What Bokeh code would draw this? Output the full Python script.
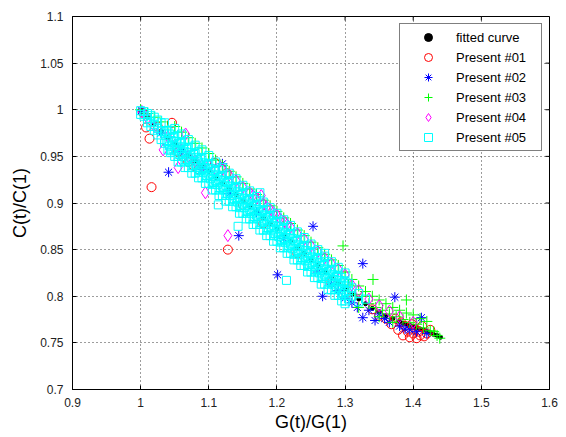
from bokeh.plotting import figure
from bokeh.models import Range1d, FixedTicker, Legend, LegendItem
from bokeh.embed import file_html
from bokeh.resources import INLINE

# Axis ticks and their printed labels
x_ticks = [0.9, 1.0, 1.1, 1.2, 1.3, 1.4, 1.5, 1.6]
x_tick_labels = ["0.9", "1", "1.1", "1.2", "1.3", "1.4", "1.5", "1.6"]
y_ticks = [0.7, 0.75, 0.8, 0.85, 0.9, 0.95, 1.0, 1.05, 1.1]
y_tick_labels = ["0.7", "0.75", "0.8", "0.85", "0.9", "0.95", "1", "1.05", "1.1"]

# Fitted curve C(t)/C(1) against G(t)/G(1)
fit_g = [1.00, 1.01, 1.02, 1.03, 1.04, 1.05, 1.06, 1.07, 1.08, 1.09,
         1.10, 1.11, 1.12, 1.13, 1.14, 1.15, 1.16, 1.17, 1.18, 1.19,
         1.20, 1.21, 1.22, 1.23, 1.24, 1.25, 1.26, 1.27, 1.28, 1.29,
         1.30, 1.31, 1.32, 1.33, 1.34, 1.35, 1.36, 1.37, 1.38, 1.385,
         1.39, 1.395, 1.40, 1.405, 1.41, 1.415, 1.42, 1.425, 1.43, 1.435,
         1.44]
fit_c = [1.000, 0.992, 0.985, 0.977, 0.970, 0.963, 0.957, 0.951, 0.945, 0.940,
         0.934, 0.927, 0.921, 0.915, 0.909, 0.902, 0.896, 0.890, 0.884, 0.878,
         0.872, 0.865, 0.859, 0.852, 0.846, 0.839, 0.833, 0.826, 0.820, 0.814,
         0.808, 0.802, 0.797, 0.792, 0.787, 0.783, 0.779, 0.776, 0.773, 0.771,
         0.770, 0.769, 0.768, 0.766, 0.765, 0.764, 0.762, 0.761, 0.759, 0.758,
         0.756]

# Present #01
p01_g = [1.003, 1.008, 1.013, 1.016, 1.025, 1.046, 1.055, 1.062, 1.070, 1.078,
         1.085, 1.109, 1.126, 1.128, 1.150, 1.180, 1.230, 1.280, 1.310, 1.340,
         1.350, 1.360, 1.368, 1.374, 1.378, 1.382, 1.385, 1.388, 1.392, 1.395,
         1.398, 1.400, 1.403, 1.405, 1.408, 1.410, 1.413, 1.416, 1.420, 1.425]
p01_c = [0.997, 0.981, 0.969, 0.917, 0.982, 0.986, 0.955, 0.950, 0.944, 0.940,
         0.936, 0.943, 0.932, 0.850, 0.898, 0.878, 0.846, 0.815, 0.800, 0.786,
         0.779, 0.776, 0.770, 0.776, 0.764, 0.772, 0.758, 0.768, 0.762, 0.756,
         0.770, 0.760, 0.765, 0.755, 0.762, 0.758, 0.768, 0.757, 0.760, 0.764]

# Present #02
p02_g = [1.001, 1.030, 1.041, 1.060, 1.090, 1.120, 1.130, 1.144, 1.170, 1.201,
         1.210, 1.253, 1.260, 1.267, 1.280, 1.290, 1.300, 1.310, 1.318, 1.326,
         1.326, 1.335, 1.344, 1.350, 1.358, 1.365, 1.373, 1.380, 1.388, 1.395,
         1.405, 1.412, 1.420]
p02_c = [0.999, 0.975, 0.933, 0.955, 0.936, 0.942, 0.910, 0.865, 0.890, 0.823,
         0.862, 0.875, 0.826, 0.800, 0.813, 0.806, 0.798, 0.793, 0.788, 0.835,
         0.777, 0.785, 0.774, 0.781, 0.776, 0.772, 0.799, 0.768, 0.765, 0.764,
         0.762, 0.777, 0.760]

# Present #03
p03_g = [1.000, 1.010, 1.020, 1.030, 1.040, 1.050, 1.060, 1.070, 1.080, 1.090,
         1.100, 1.110, 1.120, 1.130, 1.140, 1.150, 1.160, 1.170, 1.180, 1.190,
         1.200, 1.210, 1.220, 1.230, 1.240, 1.250, 1.260, 1.270, 1.280, 1.290,
         1.297, 1.300, 1.305, 1.310, 1.315, 1.320, 1.320, 1.325, 1.330, 1.335,
         1.340, 1.341, 1.345, 1.350, 1.350, 1.355, 1.360, 1.365, 1.370, 1.370,
         1.375, 1.380, 1.385, 1.390, 1.390, 1.395, 1.400, 1.405, 1.410, 1.415,
         1.420, 1.425, 1.430, 1.435, 1.439]
p03_c = [1.000, 0.996, 0.992, 0.987, 0.982, 0.982, 0.976, 0.970, 0.964, 0.959,
         0.953, 0.946, 0.940, 0.934, 0.928, 0.921, 0.915, 0.909, 0.903, 0.897,
         0.891, 0.884, 0.878, 0.871, 0.865, 0.858, 0.852, 0.845, 0.839, 0.833,
         0.854, 0.826, 0.812, 0.818, 0.802, 0.811, 0.788, 0.800, 0.805, 0.792,
         0.800, 0.818, 0.788, 0.796, 0.778, 0.785, 0.792, 0.781, 0.788, 0.772,
         0.778, 0.785, 0.775, 0.796, 0.782, 0.772, 0.780, 0.770, 0.776, 0.766,
         0.773, 0.763, 0.762, 0.758, 0.755]

# Present #04
p04_g = [1.002, 1.010, 1.020, 1.033, 1.040, 1.050, 1.055, 1.060, 1.066, 1.070,
         1.080, 1.090, 1.095, 1.100, 1.110, 1.120, 1.128, 1.130, 1.140, 1.150,
         1.160, 1.165, 1.170, 1.177, 1.180, 1.185, 1.190, 1.195, 1.200, 1.205,
         1.211, 1.215, 1.220, 1.230, 1.240, 1.250, 1.260, 1.270, 1.280, 1.290,
         1.300, 1.310, 1.320, 1.335, 1.350, 1.365, 1.380, 1.400]
p04_c = [0.998, 0.991, 0.982, 0.957, 0.971, 0.962, 0.938, 0.957, 0.974, 0.950,
         0.945, 0.940, 0.911, 0.940, 0.936, 0.936, 0.865, 0.930, 0.924, 0.917,
         0.911, 0.908, 0.905, 0.908, 0.899, 0.896, 0.893, 0.890, 0.887, 0.883,
         0.880, 0.877, 0.874, 0.867, 0.861, 0.854, 0.848, 0.841, 0.835, 0.829,
         0.823, 0.812, 0.806, 0.797, 0.790, 0.784, 0.778, 0.772]

# Present #05
p05_g = [1.000, 1.000, 1.005, 1.005, 1.010, 1.010, 1.010, 1.015, 1.015, 1.015,
         1.020, 1.020, 1.020, 1.025, 1.025, 1.025, 1.030, 1.030, 1.030, 1.035,
         1.035, 1.035, 1.040, 1.040, 1.040, 1.044, 1.045, 1.045, 1.045, 1.050,
         1.050, 1.050, 1.055, 1.055, 1.055, 1.060, 1.060, 1.060, 1.065, 1.065,
         1.065, 1.070, 1.070, 1.070, 1.075, 1.075, 1.075, 1.080, 1.080, 1.080,
         1.085, 1.085, 1.085, 1.090, 1.090, 1.090, 1.095, 1.095, 1.095, 1.100,
         1.100, 1.100, 1.105, 1.105, 1.105, 1.110, 1.110, 1.110, 1.114, 1.115,
         1.115, 1.115, 1.120, 1.120, 1.120, 1.125, 1.125, 1.125, 1.130, 1.130,
         1.130, 1.135, 1.135, 1.135, 1.140, 1.140, 1.140, 1.143, 1.145, 1.145,
         1.145, 1.150, 1.150, 1.150, 1.155, 1.155, 1.155, 1.160, 1.160, 1.160,
         1.165, 1.165, 1.165, 1.170, 1.170, 1.170, 1.175, 1.175, 1.175, 1.175,
         1.180, 1.180, 1.180, 1.185, 1.185, 1.185, 1.190, 1.190, 1.190, 1.195,
         1.195, 1.195, 1.200, 1.200, 1.200, 1.205, 1.205, 1.205, 1.210, 1.210,
         1.210, 1.214, 1.215, 1.215, 1.215, 1.220, 1.220, 1.220, 1.225, 1.225,
         1.225, 1.230, 1.230, 1.230, 1.235, 1.235, 1.235, 1.240, 1.240, 1.240,
         1.245, 1.245, 1.245, 1.250, 1.250, 1.250, 1.255, 1.255, 1.255, 1.260,
         1.260, 1.260, 1.265, 1.265, 1.265, 1.270, 1.270, 1.270, 1.270, 1.275,
         1.275, 1.275, 1.280, 1.280, 1.280, 1.285, 1.285, 1.285, 1.290, 1.290,
         1.290, 1.295, 1.295, 1.295, 1.300, 1.300, 1.300, 1.300, 1.305, 1.305,
         1.305, 1.310, 1.310, 1.320, 1.320, 1.330,
         1.0375, 1.0375, 1.0425, 1.0425, 1.0475, 1.0475, 1.0525, 1.0525,
         1.0575, 1.0575, 1.0625, 1.0625, 1.0675, 1.0675, 1.0725, 1.0725,
         1.0775, 1.0775, 1.0825, 1.0825, 1.0875, 1.0875, 1.0925, 1.0925,
         1.0975, 1.0975, 1.1025, 1.1025, 1.1075, 1.1075, 1.1125, 1.1125,
         1.1175, 1.1175, 1.1225, 1.1225, 1.1275, 1.1275, 1.1325, 1.1325,
         1.1375, 1.1375, 1.1425, 1.1425, 1.1475, 1.1475, 1.1525, 1.1525,
         1.1575, 1.1575, 1.1625, 1.1625, 1.1675, 1.1675, 1.1725, 1.1725,
         1.1775, 1.1775, 1.1825, 1.1825, 1.1875, 1.1875, 1.1925, 1.1925,
         1.1975, 1.1975, 1.2025, 1.2025, 1.2075, 1.2075, 1.2125, 1.2125,
         1.2175, 1.2175, 1.2225, 1.2225, 1.2275, 1.2275, 1.2325, 1.2325,
         1.2375, 1.2375, 1.2425, 1.2425, 1.2475, 1.2475, 1.2525, 1.2525,
         1.2575, 1.2575, 1.2625, 1.2625, 1.2675, 1.2675, 1.2725, 1.2725,
         1.2775, 1.2775, 1.2825, 1.2825, 1.2875, 1.2875, 1.2925, 1.2925,
         1.2975, 1.2975, 1.3025, 1.3025,
         1.05, 1.06, 1.07, 1.08, 1.09, 1.10, 1.11, 1.12, 1.13, 1.14,
         1.15, 1.16, 1.17, 1.18, 1.19, 1.20, 1.21, 1.22, 1.23, 1.24,
         1.25, 1.26, 1.27, 1.28, 1.29, 1.30,
         1.055, 1.065, 1.075, 1.085, 1.095, 1.105, 1.115, 1.125, 1.135, 1.145,
         1.155, 1.165, 1.175, 1.185, 1.195, 1.205, 1.215, 1.225, 1.235, 1.245,
         1.255, 1.265, 1.275, 1.285, 1.295]
p05_c = [0.999, 0.995, 0.998, 0.993, 0.996, 0.990, 0.986, 0.994, 0.987, 0.982,
         0.992, 0.984, 0.978, 0.989, 0.980, 0.973, 0.986, 0.977, 0.968, 0.986,
         0.975, 0.964, 0.978, 0.967, 0.957, 0.954, 0.978, 0.967, 0.956, 0.971,
         0.960, 0.950, 0.972, 0.961, 0.950, 0.965, 0.954, 0.944, 0.966, 0.955,
         0.944, 0.959, 0.948, 0.938, 0.960, 0.949, 0.938, 0.953, 0.942, 0.932,
         0.955, 0.944, 0.933, 0.948, 0.937, 0.927, 0.949, 0.938, 0.927, 0.942,
         0.931, 0.921, 0.942, 0.931, 0.920, 0.935, 0.924, 0.914, 0.898, 0.936,
         0.925, 0.914, 0.929, 0.918, 0.908, 0.930, 0.919, 0.908, 0.923, 0.912,
         0.902, 0.924, 0.913, 0.902, 0.917, 0.906, 0.896, 0.875, 0.917, 0.906,
         0.895, 0.910, 0.899, 0.889, 0.911, 0.900, 0.889, 0.904, 0.893, 0.883,
         0.905, 0.894, 0.883, 0.898, 0.887, 0.877, 0.911, 0.899, 0.888, 0.877,
         0.892, 0.881, 0.871, 0.893, 0.882, 0.871, 0.886, 0.875, 0.865, 0.887,
         0.876, 0.865, 0.880, 0.869, 0.859, 0.880, 0.869, 0.858, 0.873, 0.862,
         0.852, 0.817, 0.874, 0.863, 0.852, 0.867, 0.856, 0.846, 0.867, 0.856,
         0.845, 0.860, 0.849, 0.839, 0.861, 0.850, 0.839, 0.854, 0.843, 0.833,
         0.854, 0.843, 0.832, 0.847, 0.836, 0.826, 0.848, 0.837, 0.826, 0.841,
         0.830, 0.820, 0.841, 0.830, 0.819, 0.846, 0.834, 0.823, 0.813, 0.835,
         0.824, 0.813, 0.828, 0.817, 0.807, 0.829, 0.818, 0.807, 0.822, 0.811,
         0.801, 0.820, 0.812, 0.801, 0.816, 0.805, 0.795, 0.792, 0.814, 0.806,
         0.797, 0.809, 0.800, 0.803, 0.794, 0.797,
         0.977, 0.966, 0.974, 0.961, 0.970, 0.958, 0.966, 0.956,
         0.964, 0.952, 0.960, 0.950, 0.958, 0.946, 0.954, 0.944,
         0.952, 0.940, 0.949, 0.938, 0.947, 0.935, 0.943, 0.933,
         0.941, 0.929, 0.937, 0.926, 0.934, 0.922, 0.930, 0.920,
         0.928, 0.916, 0.924, 0.914, 0.922, 0.910, 0.918, 0.908,
         0.916, 0.904, 0.912, 0.901, 0.909, 0.897, 0.905, 0.895,
         0.903, 0.891, 0.899, 0.889, 0.897, 0.885, 0.893, 0.883,
         0.891, 0.879, 0.887, 0.877, 0.885, 0.873, 0.881, 0.871,
         0.879, 0.867, 0.875, 0.864, 0.872, 0.860, 0.868, 0.858,
         0.866, 0.854, 0.862, 0.851, 0.859, 0.847, 0.855, 0.845,
         0.853, 0.841, 0.849, 0.838, 0.846, 0.834, 0.842, 0.832,
         0.840, 0.828, 0.836, 0.825, 0.833, 0.821, 0.829, 0.819,
         0.827, 0.815, 0.823, 0.813, 0.821, 0.809, 0.817, 0.807,
         0.815, 0.803, 0.811, 0.801,
         0.980, 0.974, 0.968, 0.962, 0.957, 0.951, 0.944, 0.938, 0.932, 0.926,
         0.919, 0.913, 0.907, 0.901, 0.895, 0.889, 0.882, 0.876, 0.869, 0.863,
         0.856, 0.850, 0.843, 0.837, 0.831, 0.825,
         0.944, 0.938, 0.932, 0.927, 0.921, 0.914, 0.908, 0.902, 0.896, 0.889,
         0.883, 0.877, 0.871, 0.865, 0.859, 0.852, 0.846, 0.839, 0.833, 0.826,
         0.820, 0.813, 0.807, 0.801, 0.795]

FONT = "Liberation Sans"
X0, X1, Y0, Y1 = 0.9, 1.6, 0.7, 1.1
FRAME_W, FRAME_H = 477, 373

p = figure(
    frame_width=FRAME_W, frame_height=FRAME_H,
    min_border_left=72, min_border_right=17, min_border_top=16, min_border_bottom=48,
    x_range=Range1d(X0, X1), y_range=Range1d(Y0, Y1),
    output_backend="svg", toolbar_location=None,
    background_fill_color="white", border_fill_color="white",
)
p.outline_line_color = "black"
p.outline_line_width = 1

# dotted grid
p.xgrid.ticker = FixedTicker(ticks=x_ticks)
p.ygrid.ticker = FixedTicker(ticks=y_ticks)
for g in (p.xgrid[0], p.ygrid[0]):
    g.grid_line_color = "#3a3a3a"
    g.grid_line_dash = "1 3"
    g.grid_line_width = 1

# fitted curve underneath, then the five series
rfit = p.scatter(fit_g, fit_c, marker="circle", size=4, line_color="black",
                 fill_color="black")
r01 = p.scatter(p01_g, p01_c, marker="circle", size=9, line_color="#ff0000",
                fill_alpha=0, line_width=1)
r02 = p.scatter(p02_g, p02_c, marker="asterisk", size=10, line_color="#0000ff",
                line_width=1)
r03 = p.scatter(p03_g, p03_c, marker="cross", size=11, line_color="#00ff00",
                line_width=1)
r04 = p.scatter(p04_g, p04_c, marker="diamond", size=12, line_color="#ff00ff",
                fill_alpha=0, line_width=1)
r05 = p.scatter(p05_g, p05_c, marker="square", size=8, line_color="#00ffff",
                fill_alpha=0, line_width=1)

# axes
for ax in (p.xaxis[0], p.yaxis[0]):
    ax.major_tick_in = 4
    ax.major_tick_out = 0
    ax.minor_tick_line_color = None
    ax.axis_line_color = "black"
    ax.major_tick_line_color = "black"
    ax.major_label_text_font = FONT
    ax.major_label_text_font_size = "12px"
    ax.major_label_text_color = "#222222"
    ax.axis_label_text_font = FONT
    ax.axis_label_text_font_size = "18px"
    ax.axis_label_text_font_style = "normal"
    ax.axis_label_text_color = "black"

p.xaxis[0].ticker = FixedTicker(ticks=x_ticks)
p.xaxis[0].major_label_overrides = dict(zip(x_ticks, x_tick_labels))
p.xaxis[0].axis_label = "G(t)/G(1)"
p.xaxis[0].major_label_standoff = 8
p.xaxis[0].axis_label_standoff = 2

p.yaxis[0].ticker = FixedTicker(ticks=y_ticks)
p.yaxis[0].major_label_overrides = dict(zip(y_ticks, y_tick_labels))
p.yaxis[0].axis_label = "C(t)/C(1)"
p.yaxis[0].major_label_standoff = 9
p.yaxis[0].axis_label_standoff = 7

# inward tick marks along the top and right edges of the box (4 px long)
tick_dx = (X1 - X0) / FRAME_W * 4
tick_dy = (Y1 - Y0) / FRAME_H * 4
p.segment(x0=x_ticks, y0=[Y1] * len(x_ticks), x1=x_ticks,
          y1=[Y1 - tick_dy] * len(x_ticks), line_color="black", line_width=1)
p.segment(x0=[X1] * len(y_ticks), y0=y_ticks, x1=[X1 - tick_dx] * len(y_ticks),
          y1=y_ticks, line_color="black", line_width=1)

legend = Legend(
    items=[
        LegendItem(label="fitted curve", renderers=[rfit]),
        LegendItem(label="Present #01", renderers=[r01]),
        LegendItem(label="Present #02", renderers=[r02]),
        LegendItem(label="Present #03", renderers=[r03]),
        LegendItem(label="Present #04", renderers=[r04]),
        LegendItem(label="Present #05", renderers=[r05]),
    ],
    location="top_right",
    margin=7, padding=3, spacing=0,
    glyph_width=50, glyph_height=20, label_height=20, label_width=82,
    label_standoff=3,
    label_text_font=FONT, label_text_font_size="13px", label_text_color="black",
    border_line_color="black", border_line_width=1,
    background_fill_color="white", background_fill_alpha=1,
)
p.add_layout(legend, "center")

open("out.html", "w").write(file_html(p, INLINE))
